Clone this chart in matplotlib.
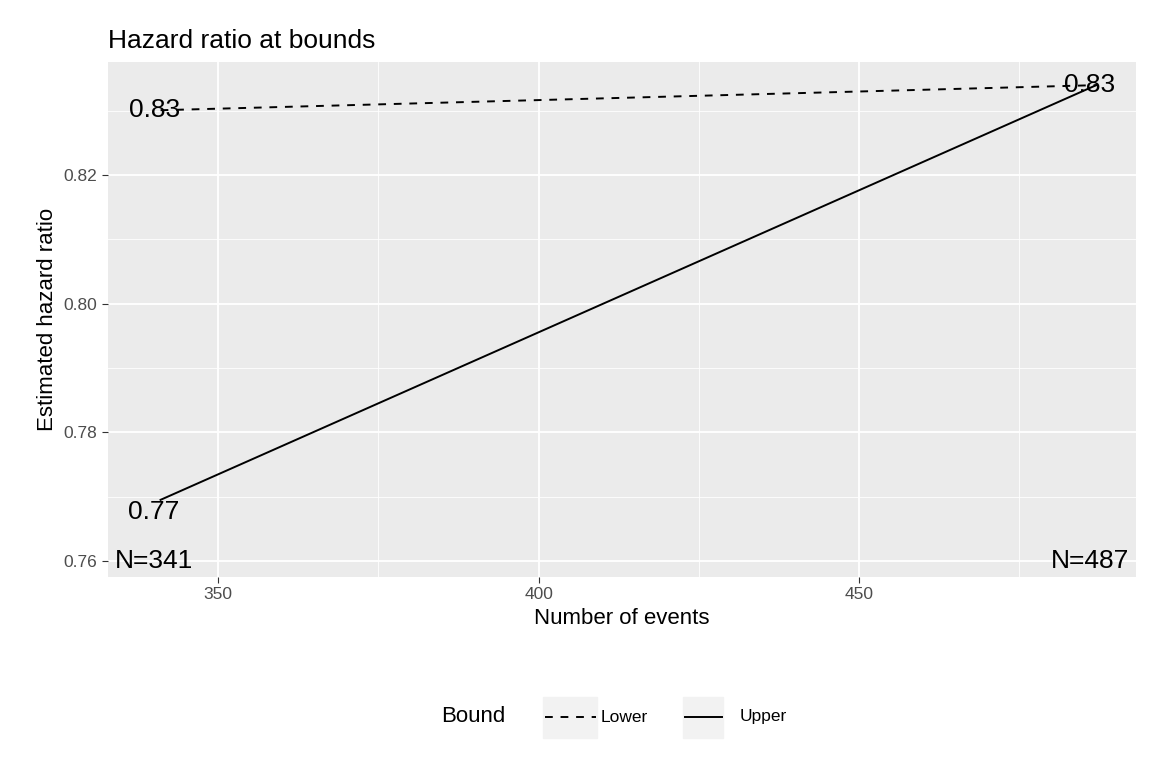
import matplotlib
matplotlib.use("Agg")
import matplotlib.pyplot as plt
from matplotlib.lines import Line2D
from matplotlib.patches import Rectangle

plt.rcParams['font.family'] = ['Liberation Sans', 'DejaVu Sans']

events = [341, 487]
lower_hr = [0.8301, 0.8340]
upper_hr = [0.7695, 0.8340]
lower_labels = ["0.83", "0.83"]
upper_labels = ["0.77", "0.83"]
n_labels = ["N=341", "N=487"]
xticks = [350, 400, 450]
yticks = [0.76, 0.78, 0.80, 0.82]
legend_labels = ["Lower", "Upper"]

fig = plt.figure(figsize=(11.52, 7.68), dpi=100)
ax = fig.add_axes([108/1152, 1-577/768, 1028/1152, 515/768])
ax.set_facecolor("#EBEBEB")
ax.set_xlim(332.8, 493.2)
ax.set_ylim(0.7575, 0.8376)
for x in [375, 425, 475]:
    ax.axvline(x, color="white", lw=0.6, zorder=0)
for y in [0.77, 0.79, 0.81, 0.83]:
    ax.axhline(y, color="white", lw=0.6, zorder=0)
for x in xticks:
    ax.axvline(x, color="white", lw=1.3, zorder=0)
for y in yticks:
    ax.axhline(y, color="white", lw=1.3, zorder=0)
for s in ax.spines.values():
    s.set_visible(False)

ax.plot(events, lower_hr, color="black", ls=(0, (4, 4)), lw=1.4)
ax.plot(events, upper_hr, color="black", ls="-", lw=1.4)
fs = 19
ax.text(events[0] - 1, lower_hr[0], lower_labels[0], ha="center", va="center", fontsize=fs)
ax.text(events[1] - 1, lower_hr[1], lower_labels[1], ha="center", va="center", fontsize=fs)
ax.text(events[0] - 1, upper_hr[0], upper_labels[0], ha="center", va="top", fontsize=fs)
for x, t in zip(events, n_labels):
    ax.text(x - 1, 0.76, t, ha="center", va="center", fontsize=fs)

ax.set_xticks(xticks)
ax.set_xticklabels([str(v) for v in xticks])
ax.set_yticks(yticks)
ax.set_yticklabels([f"{v:.2f}" for v in yticks])
ax.tick_params(colors="#4D4D4D", labelsize=12.5, length=4, color="#333333")
ax.set_xlabel("Number of events", fontsize=16)
ax.set_ylabel("Estimated hazard ratio", fontsize=16)
ax.set_title("Hazard ratio at bounds", loc="left", fontsize=19, x=0, pad=10)

yl = 1 - 717/768
fig.text(441/1152, yl, "Bound", fontsize=16, va="center")
fig.patches.append(Rectangle((543/1152, 1-738/768), 54/1152, 41/768, transform=fig.transFigure, color="#F2F2F2", zorder=0))
fig.patches.append(Rectangle((683/1152, 1-738/768), 40/1152, 41/768, transform=fig.transFigure, color="#F2F2F2", zorder=0))
fig.lines.append(Line2D([545/1152, 596/1152], [yl, yl], transform=fig.transFigure, color="black", ls=(0, (4, 4)), lw=1.4))
fig.lines.append(Line2D([685/1152, 722/1152], [yl, yl], transform=fig.transFigure, color="black", ls="-", lw=1.4))
fig.text(601/1152, yl, legend_labels[0], fontsize=12.5, va="center")
fig.text(740/1152, yl, legend_labels[1], fontsize=12.5, va="center")
fig.savefig("out.png", dpi=100)
